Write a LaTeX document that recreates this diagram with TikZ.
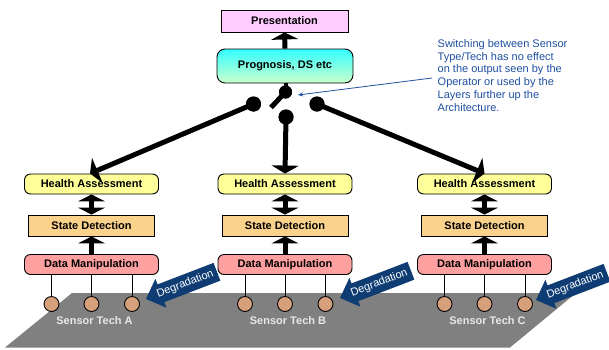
\documentclass[tikz,border=0pt]{standalone}
\usepackage{fontspec}
\setmainfont{Liberation Sans}
\usetikzlibrary{arrows.meta}
\definecolor{presfill}{RGB}{255,204,255}
\definecolor{progtop}{RGB}{51,255,255}
\definecolor{progbot}{RGB}{204,255,204}
\definecolor{hayellow}{RGB}{255,255,153}
\definecolor{sdorange}{RGB}{250,210,140}
\definecolor{dmpink}{RGB}{255,160,160}
\definecolor{sensortan}{RGB}{214,160,124}
\definecolor{platgray}{RGB}{128,128,128}
\definecolor{degblue}{RGB}{14,60,115}
\definecolor{noteblue}{RGB}{31,79,160}
\definecolor{techgray}{RGB}{232,232,232}
\newcommand\degarrow[1]{%
  \begin{scope}[shift={(#1)}, rotate=21]
    \fill[degblue] (0,0) -- (16,-15.5) -- (16,-9.5) -- (76,-9.5) -- (76,9.5) -- (16,9.5) -- (16,15.5) -- cycle;
    \node[degtext, rotate=21] at (42,0) {Degradation};
  \end{scope}}
\begin{document}
\begin{tikzpicture}[x=1pt,y=-1pt,
  lbl/.style={font=\fontsize{11}{13}\selectfont\bfseries},
  boxbase/.style={draw=black, line width=0.9pt, inner sep=0pt, lbl},
  presbox/.style={boxbase, fill=presfill, minimum width=127pt, minimum height=22pt},
  progbox/.style={boxbase, rounded corners=8pt, top color=progtop, bottom color=progbot, minimum width=136pt, minimum height=34pt},
  habox/.style={boxbase, rounded corners=6pt, fill=hayellow, minimum width=134pt, minimum height=20pt},
  sdbox/.style={boxbase, fill=sdorange, minimum width=126pt, minimum height=21pt},
  dmbox/.style={boxbase, rounded corners=6pt, fill=dmpink, minimum width=134pt, minimum height=20pt},
  sensor/.style={circle, draw=black, line width=0.9pt, fill=sensortan, minimum size=15pt, inner sep=0pt},
  dotbig/.style={circle, fill=black, minimum size=15pt, inner sep=0pt},
  dotsmall/.style={circle, fill=black, minimum size=13pt, inner sep=0pt},
  bigarrow/.style={line width=5pt, -{Triangle[width=27pt,length=8pt]}},
  dblarrow/.style={line width=5pt, {Triangle[width=27pt,length=7pt]}-{Triangle[width=27pt,length=7pt]}},
  upnarrow/.style={line width=5pt, -{Triangle[width=27pt,length=7pt]}},
  techlbl/.style={font=\fontsize{11}{13}\selectfont\bfseries, text=techgray},
  degtext/.style={font=\fontsize{11}{13}\selectfont, text=white, inner sep=0pt},
  notetext/.style={font=\fontsize{11}{12.9}\selectfont, text=noteblue, align=left, inner sep=0pt, anchor=north west},
]
\useasboundingbox (0,0) rectangle (609,349);

% platform
\fill[platgray] (72,293) -- (576,293) -- (510,347.5) -- (5,347.5) -- cycle;

% top boxes
\node[presbox] (pres) at (284.5,21) {Presentation};
\node[progbox] (prog) at (285,66) {Prognosis, DS etc};
\draw[upnarrow] (prog.north) -- (pres.south);

% columns
\foreach \c/\x in {A/91.5, B/285, C/484.5}{
  \node[habox] (h\c) at (\x,184) {Health Assessment};
  \node[sdbox] (s\c) at (\x,225.5) {State Detection};
  \node[dmbox] (d\c) at (\x,264.5) {Data Manipulation};
  \draw[dblarrow] (s\c.north) -- (h\c.south);
  \draw[upnarrow] (d\c.north) -- (s\c.south);
  \node[sensor] (\c1) at (\x-40,304) {};
  \node[sensor] (\c2) at (\x,304) {};
  \node[sensor] (\c3) at (\x+40.5,304) {};
  \foreach \k in {1,2,3}{
    \draw[line width=0.9pt] (d\c.south -| \c\k) -- (\c\k.north);
  }
  \node[techlbl] (t\c) at (\x+3,321) {Sensor Tech \c};
}

% switch
\node[dotsmall] (dt) at (285.5,92) {};
\node[dotbig] (dl) at (253.5,104) {};
\node[dotbig] (dc) at (286,117) {};
\node[dotbig] (dr) at (317,104) {};
\coordinate (lev) at (271,107.5);
\draw[line width=4pt] (prog.south -| dt) -- (dt.center);
\draw[line width=5pt] (dt.center) -- (lev);
\draw[bigarrow] (dl.center) -- (hA.north -| 90,0);
\draw[bigarrow] (dc.center) -- (hB.north);
\draw[bigarrow] (dr.center) -- (hC.north);
\node[dotsmall] at (dt) {};
\node[dotbig] at (dl) {};
\node[dotbig] at (dc) {};
\node[dotbig] at (dr) {};

% degradation arrows
\degarrow{146,299}
\degarrow{340,298}
\degarrow{536,300}

% annotation
\node[notetext] (note) at (437.5,39) {Switching between Sensor\\Type/Tech has no effect\\on the output seen by the\\Operator or used by the\\Layers further up the\\Architecture.};
\coordinate (pstart) at (432,78);
\coordinate (swpt) at (298,95);
\draw[noteblue, line width=0.8pt, -{Stealth[length=5pt,width=4pt]}] (pstart) -- (swpt);
\end{tikzpicture}
\end{document}
